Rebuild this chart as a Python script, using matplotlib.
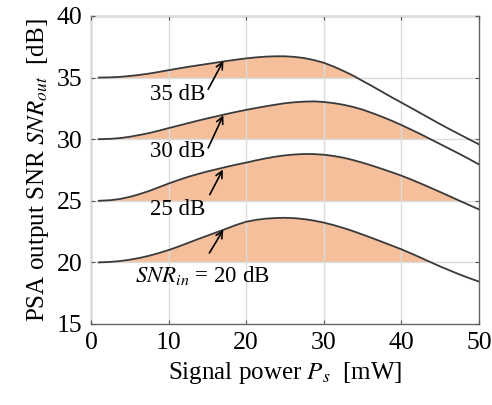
import numpy as np
import matplotlib
matplotlib.use("Agg")
import matplotlib.pyplot as plt

# signal power [mW] and PSA output SNR [dB]
ps = [1, 2.5, 3.75, 5, 6.25, 7.5, 8.75, 10, 11.25, 12.5, 13.75, 15, 16.25, 17.5,
      18.75, 20, 21.25, 22.5, 23.75, 25, 26.25, 27.5, 28.75, 30, 31.25, 32.5,
      33.75, 35, 36.25, 37.5, 38.75, 40, 41.25, 42.5, 43.75, 45, 46.25, 47.5,
      48.75, 50]
snr35 = [35.0, 35.02, 35.06, 35.13, 35.22, 35.33, 35.46, 35.6, 35.74, 35.87,
         35.99, 36.11, 36.23, 36.35, 36.46, 36.56, 36.64, 36.7, 36.73, 36.73,
         36.68, 36.58, 36.42, 36.2, 35.9, 35.55, 35.17, 34.73, 34.3, 33.85,
         33.4, 32.97, 32.54, 32.1, 31.66, 31.22, 30.8, 30.39, 29.98, 29.58]
snr30 = [30.0, 30.03, 30.09, 30.2, 30.34, 30.5, 30.69, 30.9, 31.1, 31.3, 31.5,
         31.69, 31.87, 32.05, 32.22, 32.38, 32.53, 32.67, 32.8, 32.92, 33.0,
         33.05, 33.07, 33.02, 32.93, 32.8, 32.62, 32.4, 32.12, 31.82, 31.5,
         31.15, 30.78, 30.4, 30.0, 29.6, 29.2, 28.8, 28.38, 27.95]
snr25 = [25.0, 25.05, 25.15, 25.32, 25.54, 25.8, 26.1, 26.4, 26.68, 26.94,
         27.17, 27.38, 27.57, 27.76, 27.94, 28.1, 28.28, 28.44, 28.58, 28.69,
         28.76, 28.8, 28.79, 28.74, 28.64, 28.5, 28.31, 28.09, 27.85, 27.59,
         27.32, 27.04, 26.73, 26.4, 26.06, 25.71, 25.36, 25.0, 24.65, 24.3]
snr20 = [20.0, 20.04, 20.11, 20.22, 20.36, 20.54, 20.76, 21.0, 21.28, 21.58,
         21.88, 22.17, 22.46, 22.75, 23.05, 23.3, 23.45, 23.55, 23.6, 23.62,
         23.59, 23.51, 23.39, 23.23, 23.03, 22.8, 22.54, 22.26, 21.97, 21.67,
         21.37, 21.06, 20.73, 20.38, 20.02, 19.67, 19.34, 19.02, 18.72, 18.44]
snr_in = [35, 30, 25, 20]

labels = ["35 dB", "30 dB", "25 dB", "$SNR_{in}$ = 20 dB"]
label_pos = [(11.15, 33.6), (11.15, 29.0), (11.15, 24.3), (14.4, 18.9)]
arrow_tail = [(15.1, 34.05), (15.1, 29.3), (15.3, 25.5), (15.25, 20.76)]
arrow_head = [(17.05, 36.36), (17.05, 31.94), (17.0, 27.54), (17.05, 22.65)]

plt.rcParams['font.family'] = ['Liberation Serif', 'DejaVu Serif']
plt.rcParams['mathtext.fontset'] = 'stix'

fig = plt.figure(figsize=(4.92, 4.05), dpi=100)
ax = fig.add_axes([0.185, 0.2, 0.7886, 0.7605])

x = np.array(ps)
for base, vals in zip(snr_in, [snr35, snr30, snr25, snr20]):
    y = np.array(vals)
    ax.fill_between(x, base, y, where=y >= base, interpolate=True,
                    color='#f5bf9b', linewidth=0, zorder=1)
    ax.plot(x, y, color='#3a3a3a', lw=1.3, zorder=3, solid_joinstyle='round')

for txt, pos, tail, head in zip(labels, label_pos, arrow_tail, arrow_head):
    ax.text(pos[0], pos[1], txt, ha='center', va='center', fontsize=16.5, zorder=4)
    ax.annotate('', xy=head, xytext=tail,
                arrowprops=dict(arrowstyle='->', color='black', lw=1.2,
                                shrinkA=0, shrinkB=0, mutation_scale=12),
                zorder=4)

ax.set_xlim(0, 50)
ax.set_ylim(15, 40)
ax.set_xticks([0, 10, 20, 30, 40, 50])
ax.set_yticks([15, 20, 25, 30, 35, 40])
ax.grid(True, color='#dcdcdc', lw=1.0)
ax.set_axisbelow(False)
for gl in ax.get_xgridlines() + ax.get_ygridlines():
    gl.set_zorder(2)
ax.tick_params(direction='in', length=3, width=0.8, color='#555555',
               top=True, right=True, labelsize=18.5, pad=6)
for sp in ax.spines.values():
    sp.set_color('#666666')
    sp.set_linewidth(1.0)

ax.set_xlabel('Signal power $P_s$  [mW]', fontsize=18)
ax.set_ylabel('PSA output SNR $SNR_{out}$  [dB]', fontsize=18)

fig.savefig('out.png', dpi=100)
